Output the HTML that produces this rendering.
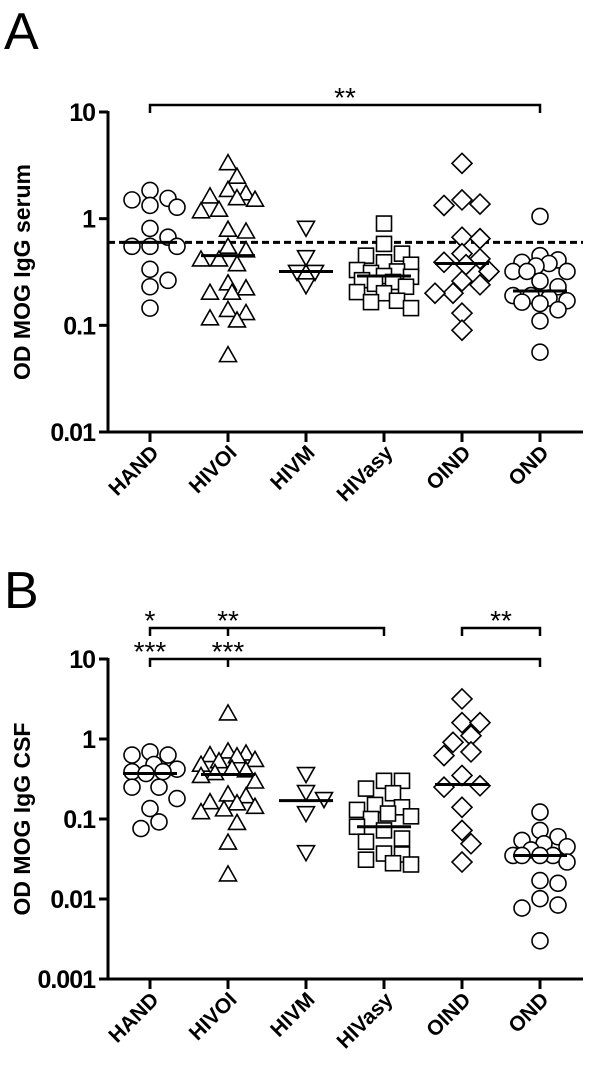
<!DOCTYPE html>
<html><head><meta charset="utf-8">
<style>
html,body{margin:0;padding:0;background:#fff;}
svg{display:block;font-family:"Liberation Sans",Arial,sans-serif;}
</style></head>
<body>
<svg id="fig" width="600" height="1069" viewBox="0 0 600 1069" xmlns="http://www.w3.org/2000/svg">
<text x="4" y="49" font-size="52">A</text>
<text x="4" y="608" font-size="52">B</text>
<g id="panelA"></g>
<g id="panelB"></g>
</svg>
<script>
const categories = ["HAND","HIVOI","HIVM","HIVasy","OIND","OND"];
const markers = ["circle","up","down","square","diamond","circle"];

const serumHAND = [1.84,1.55,1.5,1.33,1.28,0.81,0.67,0.55,0.55,0.55,0.335,0.264,0.23,0.145];
const serumHIVOI = [3.28,2.45,1.84,1.71,1.6,1.54,1.49,1.2,1.16,0.78,0.75,0.54,0.5,0.41,0.41,0.37,0.245,0.22,0.2,0.2,0.138,0.129,0.115,0.11,0.052];
const serumHIVM = [0.83,0.44,0.32,0.32,0.24];
const serumHIVasy = [0.9,0.58,0.47,0.45,0.39,0.37,0.33,0.32,0.31,0.29,0.285,0.265,0.255,0.245,0.23,0.205,0.2,0.17,0.165,0.145];
const serumOIND = [3.3,1.5,1.37,1.33,0.67,0.65,0.47,0.42,0.39,0.37,0.32,0.26,0.24,0.2,0.2,0.13,0.09];
const serumOND = [1.05,0.45,0.41,0.39,0.38,0.36,0.32,0.32,0.32,0.26,0.23,0.19,0.19,0.18,0.17,0.165,0.16,0.14,0.11,0.056];
const serumMedians = [0.6,0.45,0.32,0.29,0.38,0.21];
const serumCutoff = 0.6;
const serumTicks = [10,1,0.1,0.01];
const serumTickLabels = ["10","1","0.1","0.01"];

const csfHAND = [0.69,0.63,0.63,0.48,0.42,0.39,0.39,0.37,0.25,0.25,0.18,0.135,0.092,0.076];
const csfHIVOI = [2.06,0.69,0.65,0.62,0.6,0.54,0.52,0.47,0.42,0.4,0.37,0.34,0.29,0.2,0.19,0.16,0.155,0.14,0.13,0.12,0.088,0.05,0.02];
const csfHIVM = [0.37,0.22,0.18,0.12,0.039];
const csfHIVasy = [0.3,0.3,0.24,0.21,0.15,0.14,0.13,0.117,0.108,0.1,0.08,0.072,0.057,0.052,0.037,0.036,0.031,0.028,0.027];
const csfOIND = [3.17,1.6,1.6,1.1,0.91,0.69,0.62,0.35,0.26,0.25,0.14,0.072,0.049,0.029];
const csfOND = [0.122,0.072,0.06,0.054,0.049,0.045,0.041,0.035,0.035,0.035,0.035,0.029,0.017,0.0157,0.0101,0.0084,0.0077,0.003];
const csfMedians = [0.37,0.36,0.17,0.08,0.27,0.035];
const csfTicks = [10,1,0.1,0.01,0.001];
const csfTickLabels = ["10","1","0.1","0.01","0.001"];

const NS = "http://www.w3.org/2000/svg";
function mk(parent, tag, attrs){
  const e = document.createElementNS(NS, tag);
  for (const k in attrs) e.setAttribute(k, attrs[k]);
  parent.appendChild(e);
  return e;
}

function drawPanel(g, cfg){
  const xCat = i => 150 + i*78;
  const lmin = Math.log10(cfg.ymin), lmax = Math.log10(cfg.ymax);
  const yS = v => cfg.bottom - (Math.log10(v)-lmin)/(lmax-lmin)*(cfg.bottom-cfg.top);
  const axX = 108, axEnd = 583;
  let el = mk(g,"line",{x1:axX,y1:cfg.top-1,x2:axX,y2:cfg.bottom+1,stroke:"#000","stroke-width":3});
  
  
  el = mk(g,"line",{x1:axX-1,y1:cfg.bottom,x2:axEnd,y2:cfg.bottom,stroke:"#000","stroke-width":3});
  
  
  cfg.ticks.forEach((t,i)=>{
    const y = yS(t);
    const l = mk(g,"line",{x1:axX-9,y1:y,x2:axX,y2:y,stroke:"#000","stroke-width":3});
    
    
    const tx = mk(g,"text",{x:axX-13,y:y+9,"text-anchor":"end","font-size":25,"font-weight":"bold","letter-spacing":"-1"});
    tx.textContent = cfg.tickLabels[i];
    
    
  });
  const cy = (cfg.top+cfg.bottom)/2;
  const title = mk(g,"text",{x:0,y:0,"text-anchor":"middle","font-size":23,"font-weight":"bold",transform:`translate(30 ${cy}) rotate(-90)`});
  title.textContent = cfg.title;
  
  
  categories.forEach((c,i)=>{
    const x = xCat(i);
    const l = mk(g,"line",{x1:x,y1:cfg.bottom,x2:x,y2:cfg.bottom+10,stroke:"#000","stroke-width":3});
    
    
    const tx = mk(g,"text",{x:0,y:0,"text-anchor":"end","font-size":21,"font-weight":"bold",transform:`translate(${x+10} ${cfg.bottom+22}) rotate(-45)`});
    tx.textContent = c;
    
    
  });
  if (cfg.cutoff){
    const y = yS(cfg.cutoff);
    const d = mk(g,"line",{x1:axX,y1:y,x2:axEnd,y2:y,stroke:"#000","stroke-width":3,"stroke-dasharray":"7 4"});
    
    
  }
  const R = 8;
  const offs = [0,9,-9,18,-18,27,-27,4,-4,13,-13,22,-22];
  cfg.series.forEach((vals,i)=>{
    const cx = xCat(i);
    const placed = [];
    const sorted = vals.slice().sort((a,b)=>b-a);
    sorted.forEach(v=>{
      const y = yS(v);
      let best = 0, bestD = -1;
      for (const cand of offs){
        let md = Infinity;
        placed.forEach(p=>{ md = Math.min(md, Math.hypot(p[0]-(cx+cand),p[1]-y)); });
        if (md >= 15){ best = cand; bestD = md; break; }
        if (md > bestD){ bestD = md; best = cand; }
      }
      const x = cx+best;
      placed.push([x,y]);
      let m;
      const st = {fill:"#fff",stroke:"#000","stroke-width":1.6};
      const mt = markers[i];
      if (mt==="circle") m = mk(g,"circle",Object.assign({cx:x,cy:y,r:R},st));
      else if (mt==="square") m = mk(g,"rect",Object.assign({x:x-7.5,y:y-7.5,width:15,height:15},st));
      else if (mt==="diamond") m = mk(g,"polygon",Object.assign({points:`${x},${y-10} ${x+10},${y} ${x},${y+10} ${x-10},${y}`},st));
      else if (mt==="up") m = mk(g,"polygon",Object.assign({points:`${x},${y-9} ${x+8.5},${y+6} ${x-8.5},${y+6}`},st));
      else m = mk(g,"polygon",Object.assign({points:`${x},${y+9} ${x+8.5},${y-6} ${x-8.5},${y-6}`},st));
      
      
    });
    const my = yS(cfg.medians[i]);
    const ml = mk(g,"line",{x1:cx-27,y1:my,x2:cx+27,y2:my,stroke:"#000","stroke-width":3});
    
    
  });
  cfg.brackets.forEach(b=>{
    const x1 = xCat(b.from), x2 = xCat(b.to);
    let d = `M${x1},${b.y+8} V${b.y} H${x2} V${b.y+8}`;
    if (b.mid!==undefined){ const xm = xCat(b.mid); d += ` M${xm},${b.y} V${b.y+8}`; }
    const p = mk(g,"path",{d:d,fill:"none",stroke:"#000","stroke-width":2.5});
    
    
    b.labels.forEach(lb=>{
      const t = mk(g,"text",{x:xCat(lb[0]),y:b.y+2,"text-anchor":"middle","font-size":28});
      t.textContent = lb[1];
      
      
    });
  });
}

drawPanel(document.getElementById("panelA"),{
  top:112,bottom:432,ymin:0.01,ymax:10,ticks:serumTicks,tickLabels:serumTickLabels,
  title:"OD MOG IgG serum",cutoff:serumCutoff,medians:serumMedians,
  series:[serumHAND,serumHIVOI,serumHIVM,serumHIVasy,serumOIND,serumOND],
  brackets:[{from:0,to:5,y:105,labels:[[2.5,"**"]]}]
});
drawPanel(document.getElementById("panelB"),{
  top:659,bottom:979,ymin:0.001,ymax:10,ticks:csfTicks,tickLabels:csfTickLabels,
  title:"OD MOG IgG CSF",cutoff:null,medians:csfMedians,
  series:[csfHAND,csfHIVOI,csfHIVM,csfHIVasy,csfOIND,csfOND],
  brackets:[
    {from:0,to:3,mid:1,y:628,labels:[[0,"*"],[1,"**"]]},
    {from:4,to:5,y:628,labels:[[4.5,"**"]]},
    {from:0,to:5,mid:1,y:659,labels:[[0,"***"],[1,"***"]]}
  ]
});
</script>
</body></html>
